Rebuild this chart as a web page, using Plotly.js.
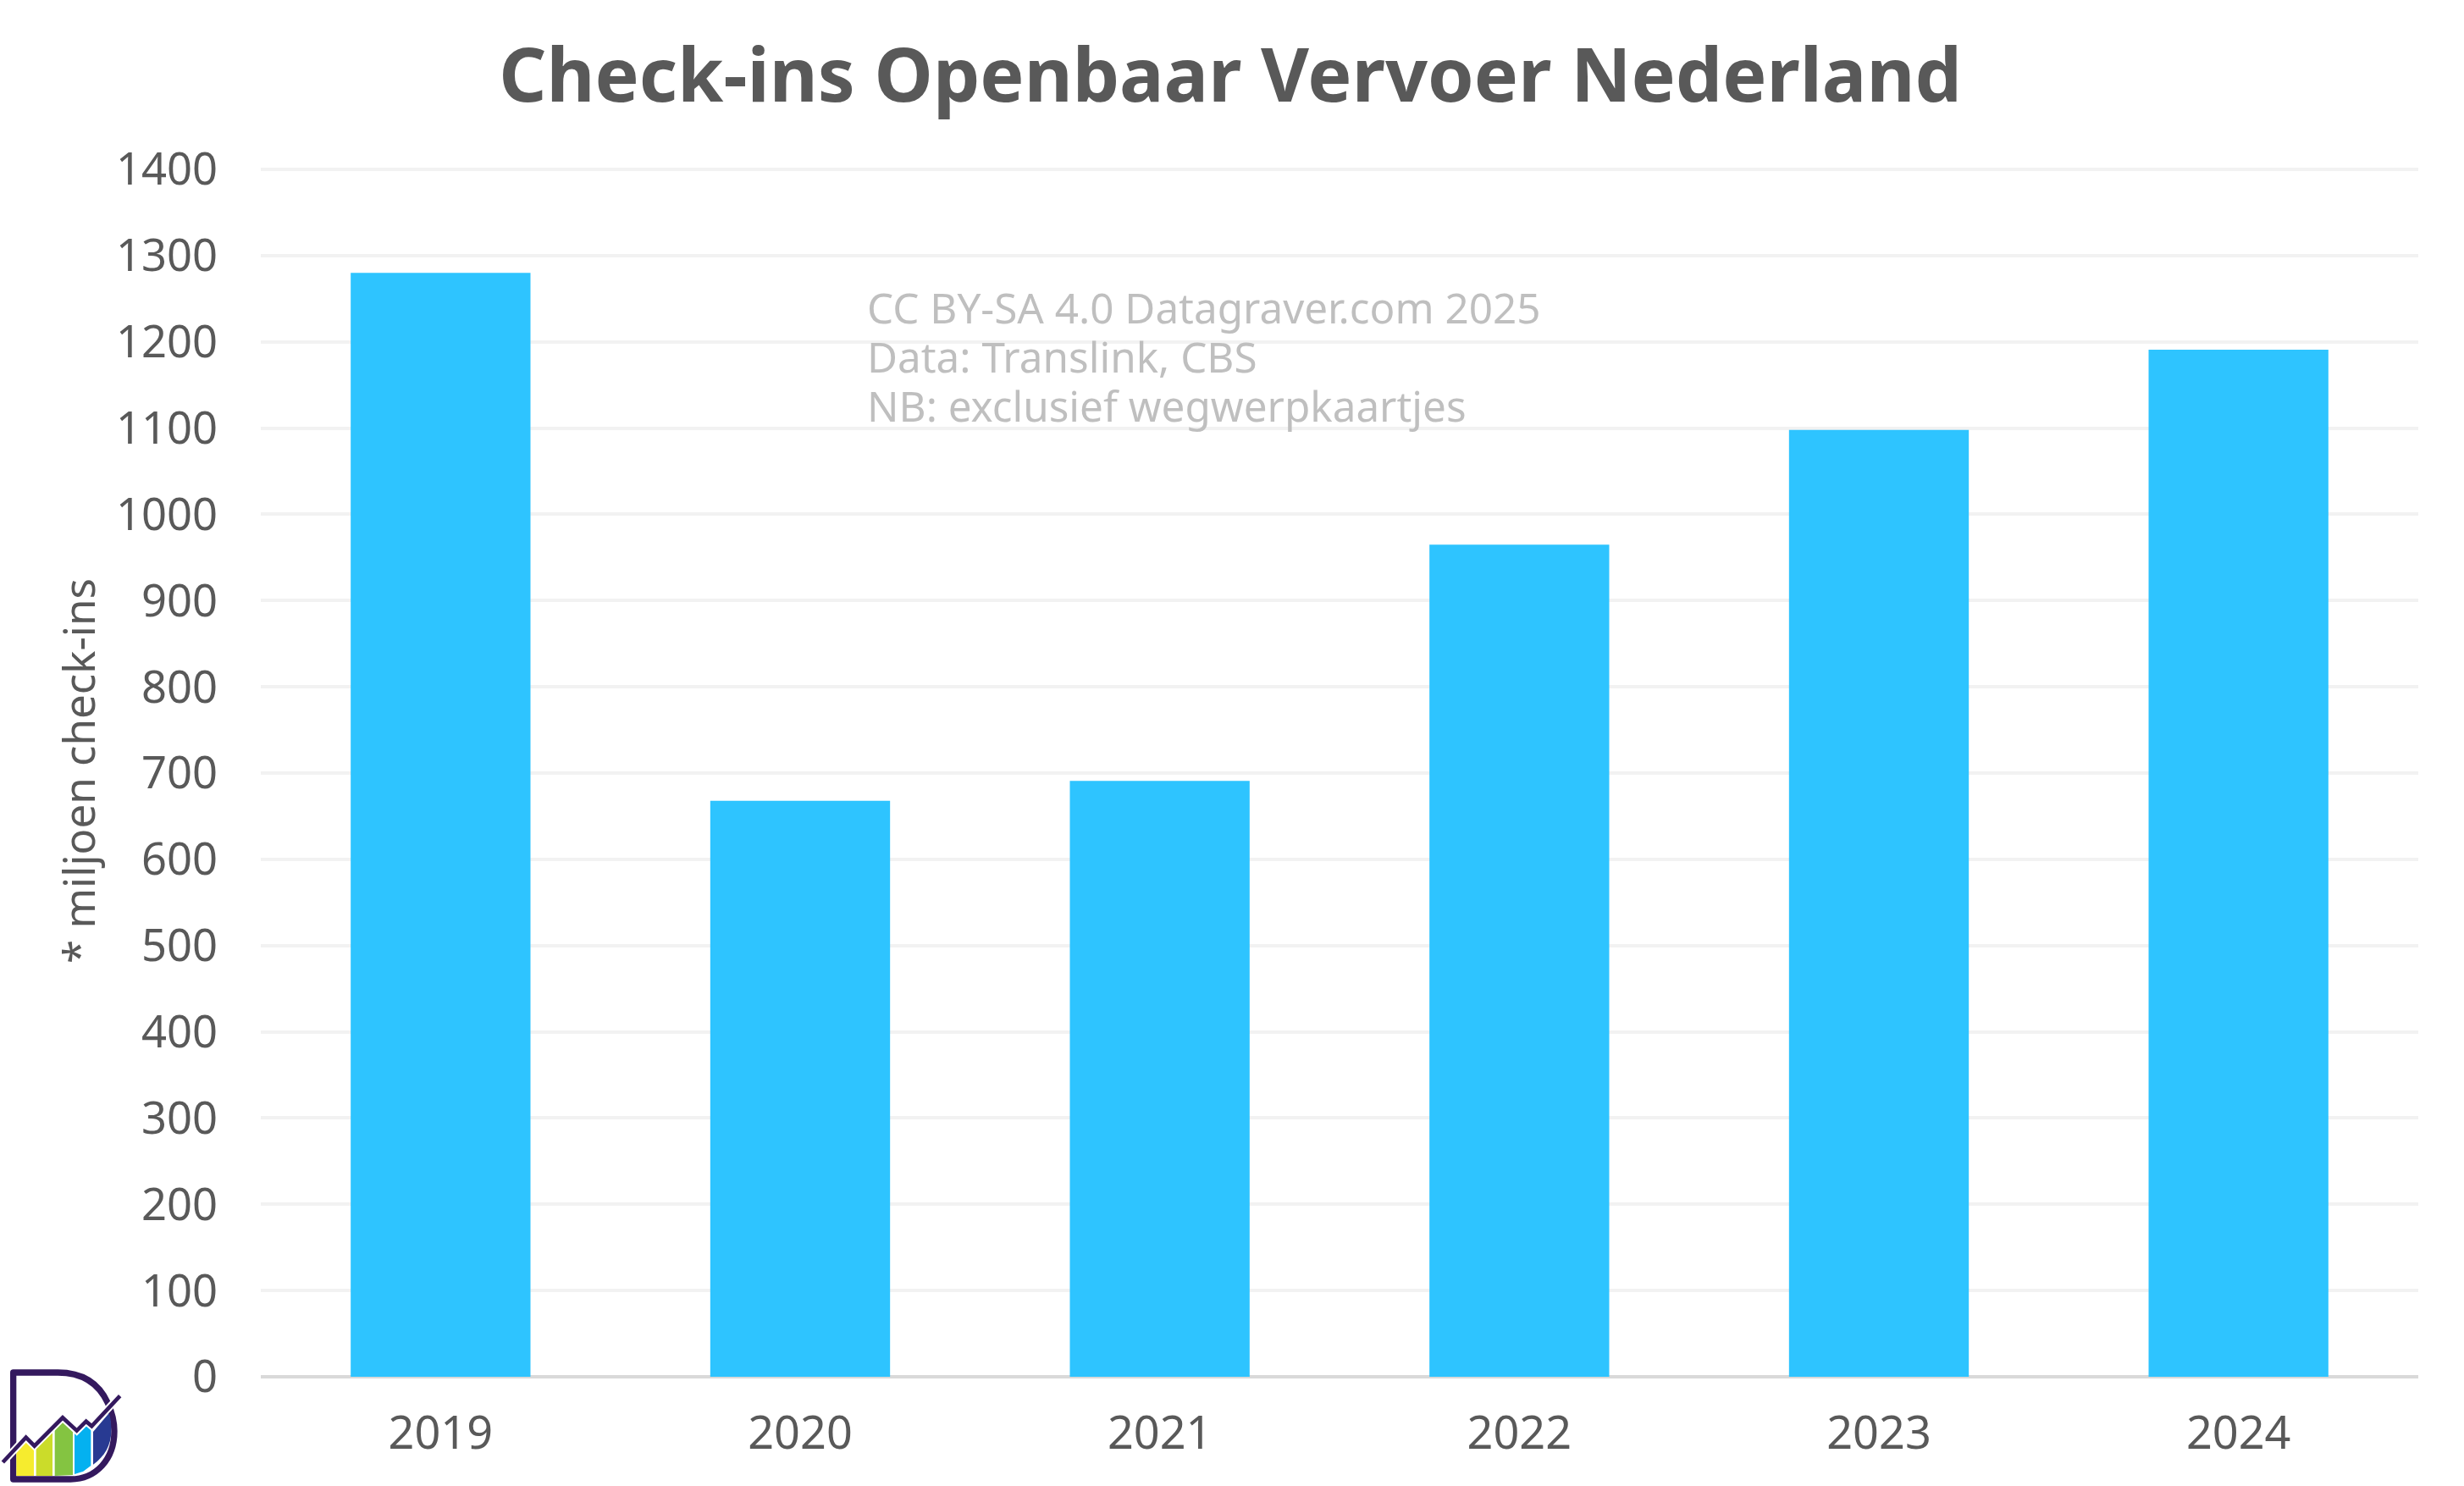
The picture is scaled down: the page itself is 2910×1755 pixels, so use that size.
<!DOCTYPE html>
<html>
<head>
<meta charset="utf-8">
<script src="https://cdn.plot.ly/plotly-3.0.1.min.js"></script>
<style>html,body{margin:0;padding:0;background:#fff}#chart{width:2910px;height:1755px}</style>
</head>
<body>
<div id="chart"></div>
<script>
const years = ["2019","2020","2021","2022","2023","2024"];
const checkIns = [1280,668,691,965,1098,1191];
const yTicks = [0,100,200,300,400,500,600,700,800,900,1000,1100,1200,1300,1400];
const chartTitle = "Check-ins Openbaar Vervoer Nederland";
const yTitle = "* miljoen check-ins";
const noteLines = ["CC BY-SA 4.0 Datagraver.com 2025","Data: Translink, CBS","NB: exclusief wegwerpkaartjes"];
const noteBaselines = [382.5,440.5,498.5];

const YMAX=1405, PXU=1.0184;
const W=2910,H=1755,L=308,R=2856,B=1625.7,T=B-YMAX*PXU;
const FONT='"Noto Sans","Open Sans",sans-serif';
const logo = `<svg xmlns="http://www.w3.org/2000/svg" viewBox="0 0 1200 765" width="1200" height="765">
<path d="M47 740 V362 H205 C290 362 350 400 382 470 C398 505 405 530 405 570 C405 670 340 740 250 740 Z" fill="#fff" stroke="#34195e" stroke-width="22" stroke-linejoin="round"/>
<polygon points="58,728 58,632 92,602 120,630 120,728" fill="#f6ec2e"/>
<polygon points="128,728 128,625 186,570 186,728" fill="#cbdc2a"/>
<polygon points="194,728 194,563 222,535 258,570 258,725" fill="#84c441"/>
<polygon points="264,722 264,575 272,580 305,547 322,562 322,692 295,712" fill="#04b1f0"/>
<path d="M330 688 V572 L386 506 C394 530 394 550 394 570 C394 620 370 660 330 688 Z" fill="#283a92"/>
<polyline points="10,680 92,592 122,622 222,522 272,568 305,535 325,552 425,445" fill="none" stroke="#fff" stroke-width="26"/>
<polyline points="10,680 92,592 122,622 222,522 272,568 305,535 325,552 425,445" fill="none" stroke="#34195e" stroke-width="14"/>
</svg>`;

const trace = {type:"bar",x:years,y:checkIns,marker:{color:"#2ec4ff",line:{width:0}},hoverinfo:"x+y"};
const pw=R-L, ph=B-T;
const layout = {
  width:W,height:H,paper_bgcolor:"#fff",plot_bgcolor:"#fff",showlegend:false,
  margin:{l:L,r:W-R,t:T,b:H-B,pad:0},
  bargap:0.5,
  font:{family:FONT,color:"#595959"},
  title:{text:chartTitle,font:{family:'"Noto Sans",sans-serif',size:87.7,weight:700,color:"#595959"},
         x:1453/W,xanchor:"center",xref:"container",y:1-120/H,yanchor:"bottom",yref:"container",pad:{b:0}},
  xaxis:{type:"category",tickfont:{size:54,color:"#595959"},showgrid:false,showline:false,ticks:"",ticklabelstandoff:30,automargin:false},
  yaxis:{range:[0,YMAX],tickmode:"array",tickvals:yTicks,ticktext:yTicks.map(String),
         tickfont:{size:52.5,color:"#595959"},gridcolor:"#f2f2f2",gridwidth:4,
         zeroline:true,zerolinecolor:"#d9d9d9",zerolinewidth:4,showline:false,ticks:"",ticklabelstandoff:50,
         title:{text:yTitle,font:{size:51,color:"#595959"},standoff:8},automargin:false},
  annotations:noteLines.map((t,i)=>({text:t,xref:"paper",yref:"paper",x:(1023-L)/pw,y:(B-noteBaselines[i])/ph,
     xanchor:"left",yanchor:"bottom",yshift:-14,showarrow:false,align:"left",font:{size:49.4,color:"#bfbfbf"},borderpad:0})),
  images:[{source:"data:image/svg+xml;charset=utf-8,"+encodeURIComponent(logo),xref:"paper",yref:"paper",
     x:(0-L)/pw,y:(B-1500)/ph,sizex:400/pw,sizey:255/ph,xanchor:"left",yanchor:"top",sizing:"stretch",layer:"above"}]
};
Plotly.newPlot("chart",[trace],layout,{displayModeBar:false,staticPlot:true});
</script>
</body>
</html>
